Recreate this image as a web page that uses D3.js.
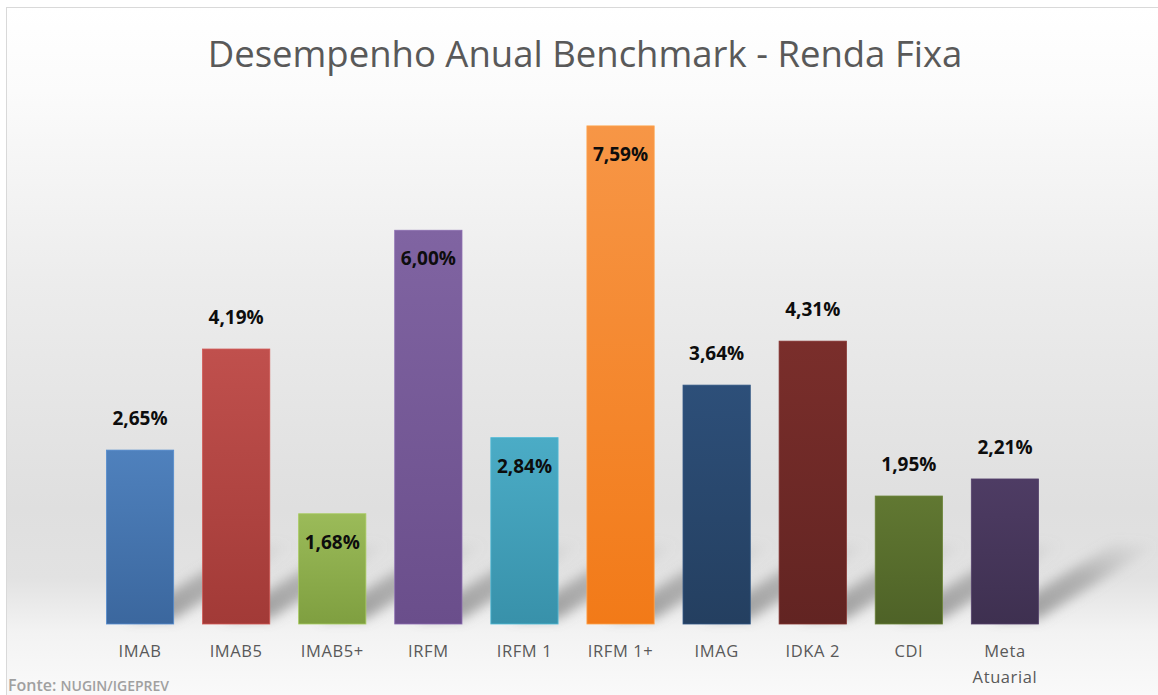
<!DOCTYPE html>
<html>
<head>
<meta charset="utf-8">
<script src="https://cdn.jsdelivr.net/npm/d3@7"></script>
<style>
  body { margin: 0; background: #fff; }
  svg { display: block; }
</style>
</head>
<body>
<div class="container"></div>
<script>
// data
let categories = ['IMAB', 'IMAB5', 'IMAB5+', 'IRFM', 'IRFM 1', 'IRFM 1+', 'IMAG', 'IDKA 2', 'CDI', 'Meta Atuarial']
let values = [2.65, 4.19, 1.68, 6.00, 2.84, 7.59, 3.64, 4.31, 1.95, 2.21]
let labelInside = [false, false, true, true, true, true, false, false, false, false]
let colorsTop = ['#4f81bd', '#c0504d', '#9bbb59', '#8064a2', '#4bacc6', '#f79646', '#2d4f79', '#7a2e2b', '#617832', '#4e3c64']
let colorsBottom = ['#3b679e', '#a23a37', '#7f9f40', '#6a4e8b', '#3891aa', '#f27a18', '#243f60', '#622422', '#4e6227', '#3e3050']

let width = 1158
let height = 695
let margin = { top: 99, left: 92, right: 105, bottom: 71 }

let svg = d3.select('.container')
    .append('svg')
    .attr('width', width)
    .attr('height', height)

let defs = svg.append('defs')

let bg = defs.append('linearGradient')
    .attr('id', 'bg')
    .attr('x1', 0).attr('y1', 0).attr('x2', 0).attr('y2', 1)
let bgStops = [[0, '#ffffff'], [0.12, '#fbfbfb'], [0.4, '#ececec'], [0.72, '#dfdfdf'], [0.82, '#e2e2e2'], [0.9, '#f3f3f3'], [1, '#fafafa']]
bgStops.forEach(s => bg.append('stop').attr('offset', s[0]).attr('stop-color', s[1]))

defs.append('filter')
    .attr('id', 'blur')
    .attr('x', '-50%').attr('y', '-50%').attr('width', '200%').attr('height', '200%')
    .append('feGaussianBlur')
    .attr('stdDeviation', 6)

let shade = defs.append('linearGradient')
    .attr('id', 'shade')
    .attr('x1', 0).attr('y1', 1).attr('x2', 1).attr('y2', 0)
shade.append('stop').attr('offset', 0).attr('stop-color', '#7a7a7a').attr('stop-opacity', 0.75)
shade.append('stop').attr('offset', 0.55).attr('stop-color', '#8a8a8a').attr('stop-opacity', 0.55)
shade.append('stop').attr('offset', 1).attr('stop-color', '#9a9a9a').attr('stop-opacity', 0)

categories.forEach((c, i) => {
    let g = defs.append('linearGradient')
        .attr('id', 'bar' + i)
        .attr('x1', 0).attr('y1', 0).attr('x2', 0).attr('y2', 1)
    g.append('stop').attr('offset', 0).attr('stop-color', colorsTop[i])
    g.append('stop').attr('offset', 1).attr('stop-color', colorsBottom[i])
})

// chart frame
svg.append('rect')
    .attr('x', 6.5)
    .attr('y', 7.5)
    .attr('width', width)
    .attr('height', height)
    .attr('fill', 'url(#bg)')
    .attr('stroke', '#d9d9d9')

svg.append('text')
    .attr('x', 585)
    .attr('y', 67)
    .attr('text-anchor', 'middle')
    .style('font-family', 'Open Sans, sans-serif')
    .style('font-size', '36.5px')
    .attr('fill', '#595959')
    .text('Desempenho Anual Benchmark - Renda Fixa')

let xScale = d3.scaleBand()
    .domain(categories)
    .range([margin.left, width - margin.right])
    .paddingInner(0.3)
    .paddingOuter(0.15)

let yScale = d3.scaleLinear()
    .domain([0, 8])
    .range([height - margin.bottom, margin.top])

let base = yScale(0)

// floor shadows cast by each bar
svg.append('g')
    .selectAll('path')
    .data(categories)
    .enter()
    .append('path')
    .attr('filter', 'url(#blur)')
    .attr('fill', 'url(#shade)')
    .attr('d', (d, i) => {
        let x0 = xScale(d)
        let x1 = x0 + xScale.bandwidth()
        let len = Math.min(base - yScale(values[i]), 100)
        return `M${x0 + 20},${base - 5} L${x1},${base - 5} L${x1 + len * 1.2},${base - len * 0.8} L${x1 + len * 1.2 - 45},${base - len * 0.8} Z`
    })

svg.append('g')
    .selectAll('rect')
    .data(categories)
    .enter()
    .append('rect')
    .attr('x', d => xScale(d))
    .attr('y', (d, i) => yScale(values[i]))
    .attr('width', xScale.bandwidth())
    .attr('height', (d, i) => base - yScale(values[i]))
    .attr('fill', (d, i) => `url(#bar${i})`)
    .attr('stroke', (d, i) => d3.color(colorsTop[i]).brighter(0.25))
    .attr('stroke-width', 0.8)

svg.append('g')
    .selectAll('text')
    .data(categories)
    .enter()
    .append('text')
    .attr('x', d => xScale(d) + xScale.bandwidth() / 2)
    .attr('y', (d, i) => labelInside[i] ? yScale(values[i]) + 35 : yScale(values[i]) - 25)
    .attr('text-anchor', 'middle')
    .style('font-family', 'Open Sans, sans-serif')
    .style('font-size', '19px')
    .style('font-weight', 'bold')
    .attr('fill', '#0d0d0d')
    .text((d, i) => values[i].toFixed(2).replace('.', ',') + '%')

let xAxis = d3.axisBottom(xScale).tickSize(0).tickPadding(0)

let axisG = svg.append('g')
    .attr('transform', `translate(0,${base})`)
    .call(xAxis)
axisG.select('.domain').remove()
axisG.selectAll('.tick text')
    .style('font-family', 'Open Sans, sans-serif')
    .style('font-size', '16.5px')
    .style('letter-spacing', '0.6px')
    .attr('fill', '#595959')
    .attr('dy', 0)
    .attr('y', 33)
    .each(function (d) {
        let words = d.split(' ')
        if (d === 'Meta Atuarial') {
            let t = d3.select(this).text(null)
            words.forEach((w, k) => {
                t.append('tspan').attr('x', 0).attr('dy', k === 0 ? 0 : 26).text(w)
            })
        }
    })

let fonte = svg.append('text')
    .attr('x', 8)
    .attr('y', 691)
    .style('font-family', 'Open Sans, sans-serif')
    .style('font-weight', '600')
    .attr('fill', '#a0a0a0')
fonte.append('tspan').style('font-size', '16px').text('Fonte: ')
fonte.append('tspan').style('font-size', '14px').text('NUGIN/IGEPREV')
</script>
</body>
</html>
